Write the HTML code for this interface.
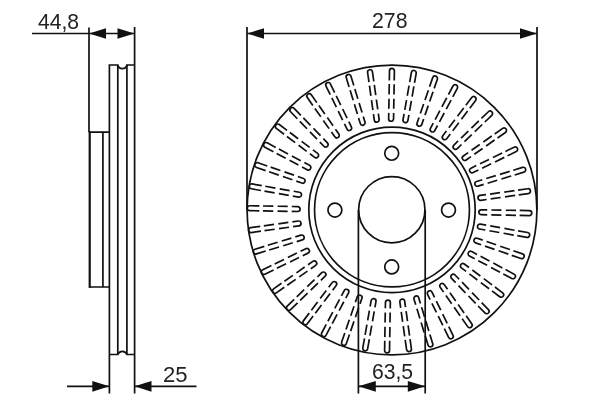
<!DOCTYPE html>
<html><head><meta charset="utf-8"><style>
html,body{margin:0;padding:0;background:#fff;width:600px;height:400px;overflow:hidden}
svg{display:block}
text{font-family:"Liberation Sans",sans-serif;font-size:21px;fill:#222}
.t{will-change:transform}
</style></head><body>
<svg width="600" height="400" viewBox="0 0 600 400">
<defs><path id="s" d="M-2.45,-130.15V-139.85A2.45,2.45 0 0 1 2.45,-139.85V-130.15M-2.45,-126.55V-116.25M2.45,-126.55V-116.25M-2.45,-111.9V-101.85M2.45,-111.9V-101.85M-2.45,-97.75V-91.85A2.45,2.45 0 0 0 2.45,-91.85V-97.75"/></defs>
<g fill="none" stroke="#111" stroke-width="1.7">
<circle cx="392" cy="210.0" r="144.9"/>
<ellipse cx="392" cy="209.8" rx="83.2" ry="82.75"/>
<ellipse cx="392" cy="209.8" rx="77.45" ry="77.1"/>
<circle cx="391.70" cy="153.30" r="6.95"/><circle cx="448.50" cy="210.10" r="6.95"/><circle cx="391.70" cy="266.90" r="6.95"/><circle cx="334.90" cy="210.10" r="6.95"/>
<circle cx="391.8" cy="209.7" r="33.15"/>
<g transform="translate(389.5,210.65)"><use href="#s" transform="rotate(1.00)"/><use href="#s" transform="rotate(10.00)"/><use href="#s" transform="rotate(19.00)"/><use href="#s" transform="rotate(28.00)"/><use href="#s" transform="rotate(37.00)"/><use href="#s" transform="rotate(46.00)"/><use href="#s" transform="rotate(55.00)"/><use href="#s" transform="rotate(64.00)"/><use href="#s" transform="rotate(73.00)"/><use href="#s" transform="rotate(82.00)"/><use href="#s" transform="rotate(91.00)"/><use href="#s" transform="rotate(100.00)"/><use href="#s" transform="rotate(109.00)"/><use href="#s" transform="rotate(118.00)"/><use href="#s" transform="rotate(127.00)"/><use href="#s" transform="rotate(136.00)"/><use href="#s" transform="rotate(145.00)"/><use href="#s" transform="rotate(154.00)"/><use href="#s" transform="rotate(163.00)"/><use href="#s" transform="rotate(172.00)"/><use href="#s" transform="rotate(181.00)"/><use href="#s" transform="rotate(190.00)"/><use href="#s" transform="rotate(199.00)"/><use href="#s" transform="rotate(208.00)"/><use href="#s" transform="rotate(217.00)"/><use href="#s" transform="rotate(226.00)"/><use href="#s" transform="rotate(235.00)"/><use href="#s" transform="rotate(244.00)"/><use href="#s" transform="rotate(253.00)"/><use href="#s" transform="rotate(262.00)"/><use href="#s" transform="rotate(271.00)"/><use href="#s" transform="rotate(280.00)"/><use href="#s" transform="rotate(289.00)"/><use href="#s" transform="rotate(298.00)"/><use href="#s" transform="rotate(307.00)"/><use href="#s" transform="rotate(316.00)"/><use href="#s" transform="rotate(325.00)"/><use href="#s" transform="rotate(334.00)"/><use href="#s" transform="rotate(343.00)"/><use href="#s" transform="rotate(352.00)"/></g>
<!-- 278 dimension -->
<path d="M247,27V210M537,27V210M247,33.5H537"/>
<!-- 63,5 extension -->
<path d="M358.4,210V393.6M425.2,210V393.6M358.4,386.3H425.2"/>
<!-- side view -->
<path d="M89,27.4V132.2"/>
<path d="M134.6,27V393.6"/>
<path d="M109.4,393.6V65H117.8A4.65,4.65 0 0 0 126.9,65H134.6"/>
<path d="M109.4,354.5H117.8A4.9,4.9 0 0 1 126.9,354.5H134.6"/>
<path d="M117.8,65V354.5M126.9,65V354.5"/>
<path d="M89.6,132.2H109.4M89.6,287H109.4M102.9,132.2V287"/>
<path d="M89.7,131.3V287.9" stroke-width="2.2"/>
<path d="M32,33.5H134.6"/>
<path d="M67,386.3H109.3M134.6,386.3H196.5"/>
</g>
<g fill="#111" stroke="none">
<path d="M247.0,33.5L264.0,28.15V38.85Z"/>
<path d="M537.0,33.5L520.0,28.15V38.85Z"/>
<path d="M89.0,33.5L106.0,28.15V38.85Z"/>
<path d="M134.5,33.5L117.5,28.15V38.85Z"/>
<path d="M358.4,386.3L375.8,380.95V391.65Z"/>
<path d="M425.2,386.3L407.8,380.95V391.65Z"/>
<path d="M109.3,386.3L92.3,380.95V391.65Z"/>
<path d="M134.5,386.3L151.5,380.95V391.65Z"/>
</g>
<g class="t"><text transform="translate(37.9,29.07) scale(1.0062,1.0238)">44,8</text><text transform="translate(371.97,27.51) scale(1.0143,1.0810)">278</text><text transform="translate(371.9,379.47) scale(1.0076,1.0219)">63,5</text><text transform="translate(162.89,381.56) scale(1.0524,1.0905)">25</text></g>
</svg>
</body></html>
